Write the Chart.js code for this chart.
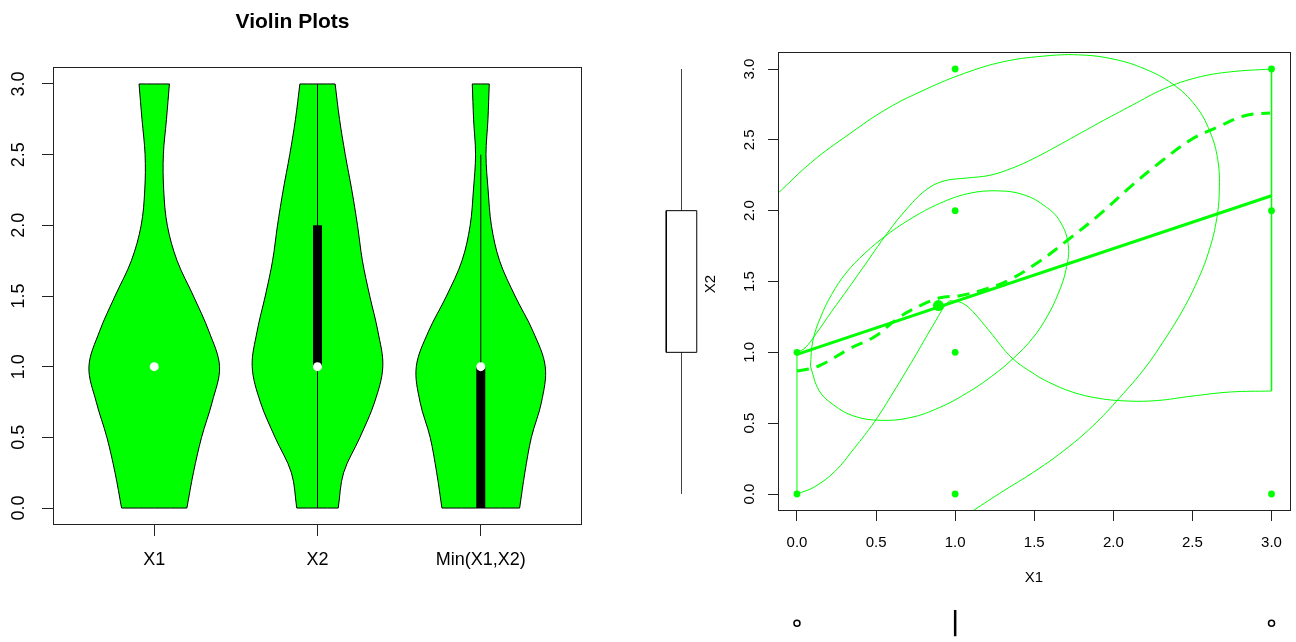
<!DOCTYPE html>
<html>
<head>
<meta charset="utf-8">
<script src="https://cdn.jsdelivr.net/npm/chart.js@4.4.0/dist/chart.umd.min.js"></script>
<style>
  html, body { margin: 0; padding: 0; background: #fff; }
  body { width: 1296px; height: 642px; position: relative; overflow: hidden; }
  canvas { position: absolute; }
</style>
</head>
<body>
<canvas id="violin" width="640" height="642" style="left:0;top:0"></canvas>
<canvas id="scatter" width="596" height="642" style="left:700px;top:0"></canvas>
<canvas id="sideBox" width="100" height="642" style="left:640px;top:0"></canvas>
<canvas id="bottomBox" width="596" height="52" style="left:700px;top:590px"></canvas>
<script>
// violin panel
const violinNames = ['X1', 'X2', 'Min(X1,X2)'];
const violinPos = [1, 2, 3];
const densityY = [0, 0.25, 0.5, 0.75, 1, 1.25, 1.5, 1.75, 2, 2.25, 2.5, 2.75, 3];
const halfWidthX1  = [0.20, 0.24, 0.29, 0.355, 0.40, 0.335, 0.24, 0.14, 0.08, 0.058, 0.056, 0.075, 0.093];
const halfWidthX2  = [0.127, 0.16, 0.26, 0.35, 0.40, 0.37, 0.32, 0.275, 0.245, 0.21, 0.17, 0.135, 0.108];
const halfWidthMin = [0.238, 0.27, 0.31, 0.372, 0.395, 0.32, 0.21, 0.115, 0.065, 0.045, 0.032, 0.044, 0.052];
const medians   = [1, 1, 1];
const q1        = [1, 1, 0];
const q3        = [1, 2, 1];
const whiskLow  = [1, 0, 0];
const whiskHigh = [1, 3, 2.5];
const yTicks = [0, 0.5, 1, 1.5, 2, 2.5, 3];

// scatter panel
const obsX1 = [0, 0, 1, 1, 1, 1, 3, 3, 3];
const obsX2 = [0, 1, 0, 1, 2, 3, 0, 2, 3];
const meanX1 = 0.894, meanX2 = 1.33;
const xTicks = [0, 0.5, 1, 1.5, 2, 2.5, 3];
const regX = [0, 3];
const regY = [0.986, 2.105];
const loessX = [0, 0.13, 0.34, 0.49, 0.65, 0.78, 0.905, 1.03, 1.2, 1.34, 1.53, 1.72, 1.91, 2.12, 2.3, 2.49, 2.66, 2.83, 2.99];
const loessY = [0.868, 0.9, 1.03, 1.11, 1.25, 1.33, 1.385, 1.4, 1.45, 1.51, 1.64, 1.8, 1.97, 2.18, 2.345, 2.5, 2.59, 2.67, 2.69];
const ellipseX = [0.085, 0.1, 0.15, 0.22, 0.31, 0.43, 0.57, 0.73, 0.9, 1.08, 1.27, 1.44, 1.57, 1.66, 1.715, 1.7, 1.65, 1.58, 1.49, 1.37, 1.23, 1.07, 0.9, 0.72, 0.53, 0.36, 0.23, 0.14, 0.085];
const ellipseY = [0.9, 1.08, 1.25, 1.41, 1.56, 1.7, 1.83, 1.95, 2.05, 2.12, 2.14, 2.11, 2.03, 1.93, 1.76, 1.58, 1.41, 1.25, 1.1, 0.96, 0.83, 0.71, 0.61, 0.54, 0.52, 0.55, 0.63, 0.73, 0.9];
const outerX = [-0.123, 0.1, 0.33, 0.57, 0.82, 1.06, 1.3, 1.55, 1.78, 2.0, 2.2, 2.38, 2.52, 2.61, 2.66, 2.67, 2.65, 2.6, 2.53, 2.44, 2.33, 2.2, 2.04, 1.87, 1.68, 1.49, 1.31, 1.11];
const outerY = [2.12, 2.35, 2.54, 2.72, 2.86, 2.97, 3.05, 3.09, 3.1, 3.07, 3.0, 2.89, 2.74, 2.56, 2.36, 2.14, 1.92, 1.7, 1.5, 1.3, 1.1, 0.89, 0.68, 0.48, 0.3, 0.15, 0.025, -0.12];
const upperX = [0, 0.05, 0.12, 0.22, 0.33, 0.45, 0.57, 0.7, 0.82, 0.93, 1.07, 1.22, 1.36, 1.5, 1.7, 1.91, 2.12, 2.32, 2.53, 2.74, 3.0];
const upperY = [1, 1.03, 1.13, 1.29, 1.46, 1.65, 1.84, 2.02, 2.15, 2.21, 2.23, 2.25, 2.3, 2.37, 2.49, 2.62, 2.745, 2.86, 2.94, 2.98, 3.0];
const lowerX = [3.0, 2.74, 2.49, 2.28, 2.1, 1.91, 1.74, 1.59, 1.51, 1.36, 1.22, 1.11, 1.05, 1.0, 0.957, 0.86, 0.74, 0.61, 0.49, 0.36, 0.24, 0.11, 0];
const lowerY = [0.727, 0.72, 0.69, 0.66, 0.656, 0.675, 0.72, 0.79, 0.84, 0.96, 1.145, 1.29, 1.345, 1.36, 1.357, 1.19, 0.96, 0.72, 0.51, 0.32, 0.16, 0.05, 0];
const leftEdgeY = [0, 1];
const rightEdgeY = [0.727, 3];

// marginal boxplots: [lower whisker, Q1, Q3, upper whisker]
const boxX2 = [0, 1, 2, 3];
const medianX1 = 1;
const outliersX1 = [0, 3];

const GREEN = '#00ff00';
const FONT = '"Liberation Sans", Arial, sans-serif';
Chart.defaults.font.family = FONT;
Chart.defaults.color = '#000';

const zip = (xs, ys) => xs.map((x, i) => ({ x: x, y: ys[i] }));

// outline with doubled corners so the spline keeps the flat top and bottom straight
function violinOutline(center, widths) {
    const top = densityY.length - 1;
    const pts = [{ x: center - widths[top], y: densityY[top] }];
    for (let i = top; i >= 0; i--) pts.push({ x: center - widths[i], y: densityY[i] });
    pts.push({ x: center - widths[0], y: densityY[0] });
    pts.push({ x: center + widths[0], y: densityY[0] });
    for (let i = 0; i <= top; i++) pts.push({ x: center + widths[i], y: densityY[i] });
    pts.push({ x: center + widths[top], y: densityY[top] });
    pts.push({ x: center - widths[top], y: densityY[top] });
    return pts;
}

function frame(color) {
    return {
        id: 'frame',
        afterDraw(chart) {
            const a = chart.chartArea, ctx = chart.ctx;
            ctx.save();
            ctx.strokeStyle = color;
            ctx.lineWidth = 1;
            ctx.strokeRect(Math.round(a.left) + 0.5, Math.round(a.top) + 0.5,
                Math.round(a.right - a.left) - 1, Math.round(a.bottom - a.top) - 1);
            ctx.restore();
        }
    };
}

function rotatedYLabels(cx, size) {
    return {
        id: 'rotatedYLabels',
        afterDraw(chart) {
            const s = chart.scales.y, ctx = chart.ctx;
            ctx.save();
            ctx.font = size + 'px ' + FONT;
            ctx.fillStyle = '#000';
            ctx.textAlign = 'center';
            ctx.textBaseline = 'middle';
            s.ticks.forEach(t => {
                ctx.save();
                ctx.translate(cx, s.getPixelForValue(t.value));
                ctx.rotate(-Math.PI / 2);
                ctx.fillText(t.value.toFixed(1), 0, 0);
                ctx.restore();
            });
            ctx.restore();
        }
    };
}

function textLabel(text, x, y, font, rotate) {
    return {
        id: 'text_' + text,
        afterDraw(chart) {
            const ctx = chart.ctx;
            ctx.save();
            ctx.font = font;
            ctx.fillStyle = '#000';
            ctx.textAlign = 'center';
            ctx.textBaseline = 'middle';
            ctx.translate(x, y);
            if (rotate) ctx.rotate(-Math.PI / 2);
            ctx.fillText(text, 0, 0);
            ctx.restore();
        }
    };
}

const baseOptions = {
    responsive: false,
    animation: false,
    events: [],
    plugins: { legend: { display: false }, tooltip: { enabled: false } },
    elements: { point: { radius: 0 }, line: { tension: 0 } }
};

// ---------- violin plots ----------
const widths = [halfWidthX1, halfWidthX2, halfWidthMin];
new Chart(document.getElementById('violin'), {
    type: 'line',
    data: {
        datasets: [
            {
                data: zip(violinPos, medians), showLine: false,
                pointRadius: 4.5, pointBackgroundColor: '#fff', pointBorderWidth: 0
            },
            ...violinPos.map((p, i) => ({
                data: [{ x: p, y: q1[i] }, { x: p, y: q3[i] }],
                borderColor: '#000', borderWidth: 9, borderCapStyle: 'butt'
            })),
            ...violinPos.map((p, i) => ({
                data: [{ x: p, y: whiskLow[i] }, { x: p, y: whiskHigh[i] }],
                borderColor: '#000', borderWidth: 1
            })),
            ...violinPos.map((p, i) => ({
                data: violinOutline(p, widths[i]),
                fill: 'shape', backgroundColor: GREEN,
                borderColor: '#000', borderWidth: 1, tension: 0.35
            }))
        ]
    },
    options: {
        ...baseOptions,
        layout: { padding: { top: 67, right: 58, left: 0, bottom: 0 } },
        scales: {
            x: {
                type: 'linear', min: 0.38, max: 3.62,
                afterFit: s => { s.height = 117; },
                afterBuildTicks: s => { s.ticks = violinPos.map(v => ({ value: v })); },
                ticks: {
                    font: { size: 18 }, padding: 13, maxRotation: 0, autoSkip: false,
                    callback: v => violinNames[violinPos.indexOf(v)]
                },
                grid: { drawOnChartArea: false, tickLength: 11, color: '#222' },
                border: { display: false }
            },
            y: {
                type: 'linear', min: -0.12, max: 3.12,
                afterFit: s => { s.width = 53; },
                afterBuildTicks: s => { s.ticks = yTicks.map(v => ({ value: v })); },
                ticks: { display: false },
                grid: { drawOnChartArea: false, tickLength: 11, color: '#222' },
                border: { display: false }
            }
        }
    },
    plugins: [frame('#222'), rotatedYLabels(19, 18),
        textLabel('Violin Plots', 292.5, 22, 'bold 21px ' + FONT, false)]
});

// ---------- scatter ----------
new Chart(document.getElementById('scatter'), {
    type: 'line',
    data: {
        datasets: [
            {
                data: [{ x: meanX1, y: meanX2 }], showLine: false,
                pointRadius: 5.5, pointBackgroundColor: GREEN, pointBorderWidth: 0
            },
            {
                data: zip(obsX1, obsX2), showLine: false,
                pointRadius: 3.4, pointBackgroundColor: GREEN, pointBorderWidth: 0
            },
            { data: zip(regX, regY), borderColor: GREEN, borderWidth: 3 },
            {
                data: zip(loessX, loessY), borderColor: GREEN, borderWidth: 3,
                borderDash: [12, 8], tension: 0.4
            },
            { data: zip(ellipseX, ellipseY), borderColor: GREEN, borderWidth: 1, tension: 0.4 },
            { data: zip(outerX, outerY), borderColor: GREEN, borderWidth: 1, tension: 0.4 },
            { data: zip(upperX, upperY), borderColor: GREEN, borderWidth: 1, tension: 0.4 },
            { data: zip(lowerX, lowerY), borderColor: GREEN, borderWidth: 1, tension: 0.4 },
            { data: leftEdgeY.map(y => ({ x: 0, y: y })), borderColor: GREEN, borderWidth: 1 },
            { data: rightEdgeY.map(y => ({ x: 3, y: y })), borderColor: GREEN, borderWidth: 1.5 }
        ]
    },
    options: {
        ...baseOptions,
        layout: { padding: { top: 52, right: 1, left: 0, bottom: 0 } },
        scales: {
            x: {
                type: 'linear', min: -0.12, max: 3.12,
                afterFit: s => { s.height = 131; },
                afterBuildTicks: s => { s.ticks = xTicks.map(v => ({ value: v })); },
                ticks: {
                    font: { size: 15 }, padding: 13, maxRotation: 0, autoSkip: false,
                    callback: v => v.toFixed(1)
                },
                grid: { drawOnChartArea: false, tickLength: 10, color: '#222' },
                border: { display: false }
            },
            y: {
                type: 'linear', min: -0.12, max: 3.12,
                afterFit: s => { s.width = 78; },
                afterBuildTicks: s => { s.ticks = yTicks.map(v => ({ value: v })); },
                ticks: { display: false },
                grid: { drawOnChartArea: false, tickLength: 10, color: '#222' },
                border: { display: false }
            }
        }
    },
    plugins: [frame('#222'), rotatedYLabels(50, 15),
        textLabel('X1', 334, 578, '15px ' + FONT, false)]
});

// ---------- marginal boxplot of X2 ----------
const boxHalf = 0.5;
new Chart(document.getElementById('sideBox'), {
    type: 'line',
    data: {
        datasets: [
            {
                data: [{ x: -boxHalf, y: boxX2[1] }, { x: boxHalf, y: boxX2[1] }, { x: boxHalf, y: boxX2[2] },
                       { x: -boxHalf, y: boxX2[2] }, { x: -boxHalf, y: boxX2[1] }],
                borderColor: '#000', borderWidth: 1
            },
            { data: [{ x: 0, y: boxX2[0] }, { x: 0, y: boxX2[1] }], borderColor: '#444', borderWidth: 1 },
            { data: [{ x: 0, y: boxX2[2] }, { x: 0, y: boxX2[3] }], borderColor: '#444', borderWidth: 1 }
        ]
    },
    options: {
        ...baseOptions,
        layout: { padding: { top: 52, bottom: 131, left: 11, right: 28 } },
        scales: {
            x: { type: 'linear', min: -1, max: 1, display: false },
            y: { type: 'linear', min: -0.12, max: 3.12, display: false }
        }
    },
    plugins: [textLabel('X2', 71, 284, '15px ' + FONT, true)]
});

// ---------- marginal boxplot of X1 ----------
new Chart(document.getElementById('bottomBox'), {
    type: 'line',
    data: {
        datasets: [
            {
                data: outliersX1.map(x => ({ x: x, y: 0 })), showLine: false,
                pointRadius: 3, pointBackgroundColor: '#fff', pointBorderColor: '#000', pointBorderWidth: 1.5
            },
            { data: [{ x: medianX1, y: -1 }, { x: medianX1, y: 1 }], borderColor: '#000', borderWidth: 2.5 }
        ]
    },
    options: {
        ...baseOptions,
        layout: { padding: { top: 20, bottom: 0, left: 78, right: 1 } },
        scales: {
            x: { type: 'linear', min: -0.12, max: 3.12, display: false },
            y: { type: 'linear', min: -1, max: 1, display: false }
        }
    }
});
</script>
</body>
</html>
